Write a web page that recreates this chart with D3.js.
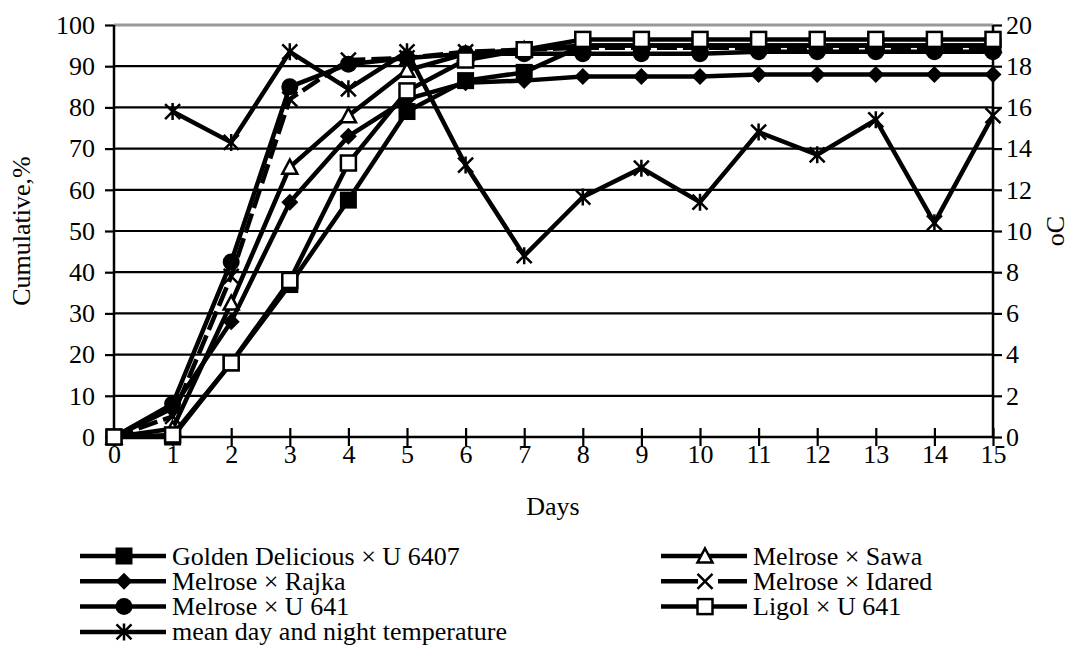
<!DOCTYPE html>
<html lang="en">
<head>
<meta charset="utf-8">
<title>Cumulative flowering and temperature</title>
<script src="https://cdn.jsdelivr.net/npm/d3@7"></script>
<style>
body { margin: 0; background: #fff; }
svg { display: block; font-family: "Liberation Serif", "Times New Roman", serif; }
</style>
</head>
<body>
<div id="chart"></div>
<script>
// data
var days = [0,1,2,3,4,5,6,7,8,9,10,11,12,13,14,15];
var golden = [0,0,18,37,57.5,79,86.5,88.5,95,95,95,95,95,95,95,95];
var sawa   = [0,2,32.5,65.5,78,89,93,94,95,95,95,95,95,95,95,95];
var rajka  = [0,7,28,57,73,82,86,86.5,87.5,87.5,87.5,88,88,88,88,88];
var idared = [0,5,39,82,91.5,92,93.5,94,94.5,94.5,94.5,94.5,94.5,94.5,94.5,94.5];
var u641   = [0,8,42.5,85,90.5,92,93,93,93,93,93,93.5,93.5,93.5,93.5,93.5];
var ligol  = [0,0.5,18,38,66.5,84,91.5,94,96.5,96.5,96.5,96.5,96.5,96.5,96.5,96.5];
var tempDays = [1,2,3,4,5,6,7,8,9,10,11,12,13,14,15];
var temp = [15.8,14.3,18.7,16.9,18.7,13.2,8.8,11.65,13.05,11.4,14.8,13.7,15.4,10.4,15.6];
var leftTicks = [0,10,20,30,40,50,60,70,80,90,100];
var rightTicks = [0,2,4,6,8,10,12,14,16,18,20];

var series = [
  {name: "Golden Delicious \u00d7 U 6407", values: golden, marker: "fsquare", col: 0, row: 0},
  {name: "Melrose \u00d7 Sawa", values: sawa, marker: "triangle", col: 1, row: 0},
  {name: "Melrose \u00d7 Rajka", values: rajka, marker: "diamond", col: 0, row: 1},
  {name: "Melrose \u00d7 Idared", values: idared, marker: "x", col: 1, row: 1, dash: "20,6"},
  {name: "Melrose \u00d7 U 641", values: u641, marker: "circle", col: 0, row: 2},
  {name: "Ligol \u00d7 U 641", values: ligol, marker: "osquare", col: 1, row: 2}
];

var W = 1072, H = 650;
var FS = 26;
var svg = d3.select("#chart").append("svg").attr("width", W).attr("height", H);

var x = d3.scaleLinear().domain([0, 15]).range([114, 993]);
var y = d3.scaleLinear().domain([0, 100]).range([437, 25]);
var y2 = d3.scaleLinear().domain([0, 20]).range([437, 25]);

// gridlines
svg.append("g").selectAll("line").data(leftTicks.filter(function(d){ return d > 0 && d < 100; }))
  .enter().append("line")
  .attr("x1", x(0)).attr("x2", x(15))
  .attr("y1", function(d){ return y(d); }).attr("y2", function(d){ return y(d); })
  .attr("stroke", "#000").attr("stroke-width", 2.2);

svg.append("line").attr("x1", x(0)).attr("x2", x(15)).attr("y1", y(100)).attr("y2", y(100))
  .attr("stroke", "#999").attr("stroke-width", 3);

// axes
var leftAxis = d3.axisLeft(y).tickValues(leftTicks).tickSize(9).tickPadding(10);
var rightAxis = d3.axisRight(y2).tickValues(rightTicks).tickSize(9).tickPadding(4);
var bottomAxis = d3.axisBottom(x).tickValues(days).tickSize(9).tickPadding(-1);

function styleAxis(g) {
  g.attr("font-family", null).attr("font-size", null);
  g.select(".domain").attr("stroke", "#000").attr("stroke-width", 2.5);
  g.selectAll(".tick line").attr("stroke", "#000").attr("stroke-width", 2.2);
  g.selectAll(".tick text").attr("font-size", FS).attr("fill", "#000");
}

svg.append("g").attr("transform", "translate(" + x(0) + ",0)").call(leftAxis).call(styleAxis)
  .select(".domain").attr("d", "M0," + y(0) + "V" + y(100));
svg.append("g").attr("transform", "translate(" + x(15) + ",0)").call(rightAxis).call(styleAxis)
  .select(".domain").attr("d", "M0," + y(0) + "V" + y(100));
var bx = svg.append("g").attr("transform", "translate(0," + y(0) + ")").call(bottomAxis).call(styleAxis);
bx.select(".domain").attr("d", "M" + x(0) + ",0H" + x(15));
bx.selectAll(".tick line").attr("y1", -9).attr("y2", 9);

// axis titles
svg.append("text").attr("x", 553).attr("y", 515).attr("text-anchor", "middle")
  .attr("font-size", FS).text("Days");
svg.append("text").attr("transform", "translate(30,231) rotate(-90)").attr("text-anchor", "middle")
  .attr("font-size", FS).text("Cumulative,%");
svg.append("text").attr("transform", "translate(1064,231) rotate(-90)").attr("text-anchor", "middle")
  .attr("font-size", FS).text("oC");

// markers
function drawMarker(g, type, cx, cy) {
  var r = 8.5;
  if (type === "fsquare") {
    g.append("rect").attr("x", cx - r).attr("y", cy - r).attr("width", 2 * r).attr("height", 2 * r).attr("fill", "#000");
  } else if (type === "osquare") {
    g.append("rect").attr("x", cx - r + 1).attr("y", cy - r + 1).attr("width", 2 * r - 2).attr("height", 2 * r - 2)
      .attr("fill", "#fff").attr("stroke", "#000").attr("stroke-width", 2.5);
  } else if (type === "diamond") {
    g.append("path").attr("d", "M" + cx + "," + (cy - r) + "L" + (cx + r) + "," + cy + "L" + cx + "," + (cy + r) + "L" + (cx - r) + "," + cy + "Z").attr("fill", "#000");
  } else if (type === "circle") {
    g.append("circle").attr("cx", cx).attr("cy", cy).attr("r", r).attr("fill", "#000");
  } else if (type === "triangle") {
    g.append("path").attr("d", "M" + cx + "," + (cy - r + 1) + "L" + (cx + r - 1) + "," + (cy + r - 2) + "L" + (cx - r + 1) + "," + (cy + r - 2) + "Z")
      .attr("fill", "#fff").attr("stroke", "#000").attr("stroke-width", 2.5);
  } else if (type === "x") {
    var a = r - 1;
    g.append("path").attr("d", "M" + (cx - a) + "," + (cy - a) + "L" + (cx + a) + "," + (cy + a) + "M" + (cx + a) + "," + (cy - a) + "L" + (cx - a) + "," + (cy + a))
      .attr("stroke", "#000").attr("stroke-width", 2.5);
  } else if (type === "star") {
    var b = r - 1;
    g.append("path").attr("d", "M" + (cx - b) + "," + (cy - b) + "L" + (cx + b) + "," + (cy + b) + "M" + (cx + b) + "," + (cy - b) + "L" + (cx - b) + "," + (cy + b) + "M" + cx + "," + (cy - r) + "L" + cx + "," + (cy + r))
      .attr("stroke", "#000").attr("stroke-width", 2.5);
  }
}

var line = d3.line().x(function(d){ return x(d[0]); }).y(function(d){ return y(d[1]); });
var line2 = d3.line().x(function(d){ return x(d[0]); }).y(function(d){ return y2(d[1]); });

series.forEach(function(s) {
  var pts = days.map(function(d, i){ return [d, s.values[i]]; });
  var g = svg.append("g");
  g.append("path").datum(pts).attr("d", line).attr("fill", "none").attr("stroke", "#000")
    .attr("stroke-width", 4.5).attr("stroke-dasharray", s.dash || null);
  pts.forEach(function(p){ drawMarker(g, s.marker, x(p[0]), y(p[1])); });
});

var tpts = tempDays.map(function(d, i){ return [d, temp[i]]; });
var tg = svg.append("g");
tg.append("path").datum(tpts).attr("d", line2).attr("fill", "none").attr("stroke", "#000").attr("stroke-width", 4.5);
tpts.forEach(function(p){ drawMarker(tg, "star", x(p[0]), y2(p[1])); });

// legend
var legendItems = series.concat([{name: "mean day and night temperature", marker: "star", col: 0, row: 3}]);
var lg = svg.append("g");
legendItems.forEach(function(s) {
  var lx = s.col === 0 ? 80 : 661;
  var ly = 556 + s.row * 25.3;
  var g = lg.append("g");
  g.append("line").attr("x1", lx).attr("x2", lx + 86).attr("y1", ly).attr("y2", ly)
    .attr("stroke", "#000").attr("stroke-width", 4.5).attr("stroke-dasharray", s.dash ? "37,20,40" : null);
  drawMarker(g, s.marker, lx + 44, ly);
  g.append("text").attr("x", lx + 92).attr("y", ly).attr("dy", "0.33em").attr("font-size", FS).text(s.name);
});
</script>
</body>
</html>
